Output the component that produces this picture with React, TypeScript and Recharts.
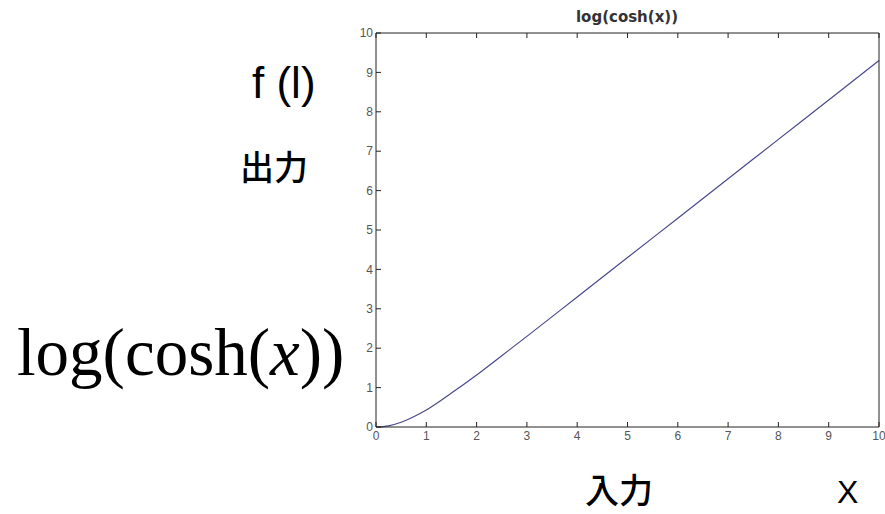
import { LineChart, Line, XAxis, YAxis } from "recharts";

// sampled points along the curve
const xValues = [0, 0.25, 0.5, 0.75, 1, 1.5, 2, 2.5, 3, 4, 5, 6, 7, 8, 9, 10];
const yValues = [0, 0.03, 0.12, 0.26, 0.43, 0.86, 1.32, 1.81, 2.3, 3.3, 4.3, 5.3, 6.3, 7.3, 8.3, 9.3];
const tickValues = [0, 1, 2, 3, 4, 5, 6, 7, 8, 9, 10];

const data = xValues.map((x, i) => ({ x, y: yValues[i] }));

const AXIS = "#222";
const TICK_TEXT = { fill: "#555", fontSize: 12, fontFamily: "Liberation Sans, Arial, sans-serif" };
const blank = () => "";

export default function App() {
  return (
    <div style={{ position: "absolute", left: 0, top: 0, width: 885, height: 514, background: "#fff" }}>
      <LineChart width={885} height={514} data={data} margin={{ top: 27, right: 0, bottom: 67, left: 346 }}>
        <XAxis
          xAxisId="bottom"
          dataKey="x"
          type="number"
          domain={[0, 10]}
          ticks={tickValues}
          height={20}
          tickSize={-5}
          tickMargin={9}
          axisLine={{ stroke: AXIS }}
          tickLine={{ stroke: AXIS }}
          tick={TICK_TEXT}
          interval={0}
        />
        <XAxis
          xAxisId="top"
          orientation="top"
          dataKey="x"
          type="number"
          domain={[0, 10]}
          ticks={tickValues}
          height={6}
          tickSize={-5}
          axisLine={{ stroke: AXIS }}
          tickLine={{ stroke: AXIS }}
          tickFormatter={blank}
          interval={0}
        />
        <YAxis
          yAxisId="left"
          type="number"
          domain={[0, 10]}
          ticks={tickValues}
          width={30}
          tickSize={-5}
          tickMargin={8}
          axisLine={{ stroke: AXIS }}
          tickLine={{ stroke: AXIS }}
          tick={TICK_TEXT}
          interval={0}
        />
        <YAxis
          yAxisId="right"
          orientation="right"
          type="number"
          domain={[0, 10]}
          ticks={tickValues}
          width={6}
          tickSize={-5}
          axisLine={{ stroke: AXIS }}
          tickLine={{ stroke: AXIS }}
          tickFormatter={blank}
          interval={0}
        />
        <Line
          xAxisId="bottom"
          yAxisId="left"
          type="monotone"
          dataKey="y"
          stroke="#48488c"
          strokeWidth={1.2}
          dot={false}
          isAnimationActive={false}
        />
      </LineChart>
      <svg width={885} height={514} style={{ position: "absolute", left: 0, top: 0, pointerEvents: "none" }}>
        <text x={627} y={22} textAnchor="middle" fontFamily="DejaVu Sans, sans-serif" fontWeight="bold" fontSize={15} fill="#333">
          log(cosh(x))
        </text>
        <text x={252} y={98} fontFamily="Liberation Sans, Arial, sans-serif" fontSize={44} fill="#000">
          f (l)
        </text>
        <text x={240} y={180} fontFamily="Noto Sans CJK JP, sans-serif" fontWeight={500} fontSize={34} fill="#000">
          出力
        </text>
        <text x={17} y={375} fontFamily="Liberation Serif, Times New Roman, serif" fontSize={67} fill="#000">
          log(cosh(<tspan fontStyle="italic">x</tspan>))
        </text>
        <text x={585} y={503} fontFamily="Noto Sans CJK JP, sans-serif" fontWeight={500} fontSize={34} fill="#000">
          入力
        </text>
        <text x={837} y={503} fontFamily="Liberation Sans, Arial, sans-serif" fontSize={32} fill="#000">
          X
        </text>
      </svg>
    </div>
  );
}
